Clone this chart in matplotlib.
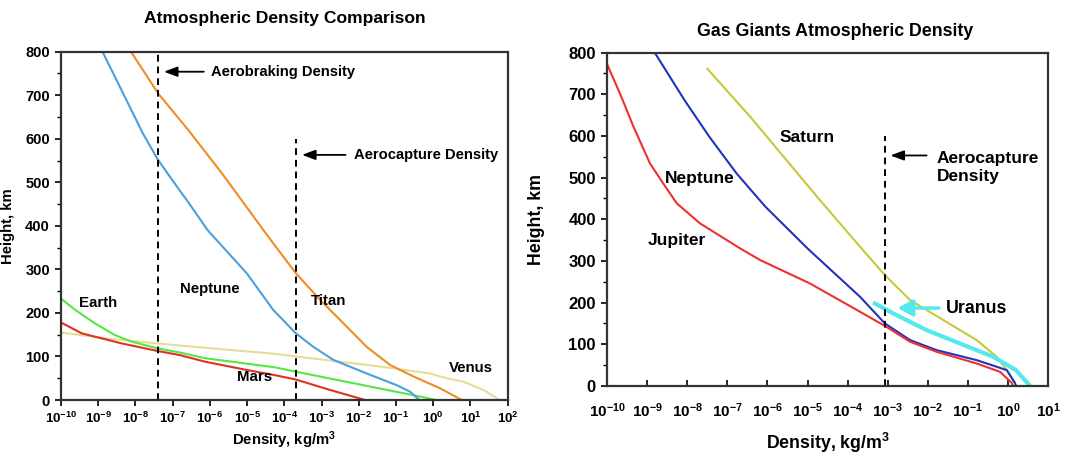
import matplotlib
matplotlib.use("Agg")
import matplotlib.pyplot as plt
import numpy as np

plt.rcParams["font.family"] = ["Liberation Sans", "DejaVu Sans"]
plt.rcParams["font.weight"] = "bold"
plt.rcParams["mathtext.fontset"] = "custom"
plt.rcParams["mathtext.bf"] = "Liberation Sans:bold"
plt.rcParams["mathtext.rm"] = "Liberation Sans:bold"
plt.rcParams["mathtext.default"] = "bf"

# ========= Data (height km, log10 density kg/m3) =========
# left panel
neptune_h = [804, 704, 612, 551, 475, 459, 390, 291, 207, 153, 122, 92, 61, 34, 19, 0]
neptune_lr = [-8.91, -8.33, -7.80, -7.39, -6.76, -6.62, -6.06, -5.01, -4.30, -3.69, -3.22, -2.68, -1.79, -0.98, -0.62, -0.37]
titan_h = [804, 750, 704, 620, 521, 459, 390, 360, 291, 230, 176, 122, 80, 54, 27, 0]
titan_lr = [-8.15, -7.74, -7.39, -6.58, -5.68, -5.15, -4.56, -4.30, -3.69, -3.04, -2.41, -1.79, -1.15, -0.53, 0.18, 0.77]
earth_h = [233, 207, 176, 149, 134, 119, 109, 96, 75, 65, 34, 11, 0]
earth_lr = [-10.0, -9.62, -9.09, -8.55, -8.10, -7.43, -6.80, -6.13, -4.25, -3.69, -1.88, -0.53, 0.09]
mars_h = [178, 153, 130, 113, 103, 88, 69, 57, 47, 23, 0]
mars_lr = [-10.0, -9.44, -8.37, -7.43, -6.80, -6.13, -5.01, -4.25, -3.69, -2.77, -1.83]
venus_h = [155, 142, 130, 125, 106, 100, 77, 61, 50, 42, 23, 0]
venus_lr = [-10.0, -8.82, -7.43, -6.80, -4.25, -3.69, -1.43, -0.09, 0.36, 0.81, 1.35, 1.79]

# right panel
jupiter_h = [770, 702, 622, 534, 486, 438, 390, 330, 302, 246, 178, 144, 106, 82, 54, 34, 8, 0]
jupiter_lr = [-9.99, -9.68, -9.34, -8.93, -8.60, -8.26, -7.68, -6.68, -6.18, -4.94, -3.69, -3.07, -2.44, -1.78, -0.78, -0.20, 0.09, 0.12]
gneptune_h = [798, 686, 598, 510, 430, 330, 214, 150, 110, 86, 62, 38, 8, 0]
gneptune_lr = [-8.80, -8.07, -7.45, -6.77, -6.05, -5.00, -3.69, -3.07, -2.44, -1.78, -0.78, -0.03, 0.17, 0.2]
saturn_h = [761, 646, 448, 334, 266, 206, 158, 110, 70, 38, 8, 0]
saturn_lr = [-7.50, -6.43, -4.71, -3.69, -3.07, -2.44, -1.61, -0.78, -0.28, -0.03, 0.17, 0.2]
uranus_h = [198, 174, 134, 102, 70, 38, 0]
uranus_lr = [-3.32, -2.86, -2.03, -1.20, -0.37, 0.20, 0.55]

aerobraking_rho = 4e-8
aerocapture_rho_left = 2e-4
aerocapture_rho_right = 8.5e-4

left_exps = list(range(-10, 3))
right_exps = list(range(-10, 2))

fig = plt.figure(figsize=(10.65, 4.57), dpi=100)
ax1 = fig.add_axes([0.0573, 0.1247, 0.4194, 0.7622])
ax2 = fig.add_axes([0.5700, 0.1554, 0.4141, 0.7297])


def style_axes(ax, exps, xdir, ysize, xsize, xpad, lsize):
    ax.set_xscale("log")
    ax.set_xlim(10.0 ** exps[0], 10.0 ** exps[-1])
    ax.set_ylim(0, 800)
    ax.set_xticks([10.0 ** e for e in exps])
    ax.set_xticklabels([f"$10^{{{e}}}$" for e in exps])
    ax.set_yticks(range(0, 801, 100))
    ax.set_yticks(range(50, 800, 100), minor=True)
    ax.tick_params(axis="y", which="major", labelsize=ysize, length=4, width=1.2, pad=4)
    ax.tick_params(axis="y", which="minor", length=3, width=1)
    ax.tick_params(axis="x", which="major", labelsize=xsize, length=4, width=1.2, direction=xdir, pad=xpad)
    ax.tick_params(axis="x", which="minor", length=2.5, width=0.8, direction=xdir)
    for s in ax.spines.values():
        s.set_linewidth(1.6)
        s.set_color("#333333")
    ax.set_ylabel("Height, km", fontsize=lsize, fontweight="bold")
    ax.set_xlabel("Density, kg/m$^3$", fontsize=lsize, fontweight="bold")


dash = (0, (3.5, 2.5))
arrow_k = dict(arrowstyle="-|>,head_width=0.3,head_length=0.8", color="black", lw=1.3)

# ========= Left panel =========
style_axes(ax1, left_exps, "out", 10.5, 9.5, 4, 10.7)
ax1.yaxis.set_label_coords(-0.103, 0.5)
ax1.xaxis.labelpad = 2
ax1.plot(10.0 ** np.array(venus_lr), venus_h, color="#e6dc98", lw=1.5)
ax1.plot(10.0 ** np.array(earth_lr), earth_h, color="#55e844", lw=1.5)
ax1.plot(10.0 ** np.array(mars_lr), mars_h, color="#dd3322", lw=1.5)
ax1.plot(10.0 ** np.array(neptune_lr), neptune_h, color="#4aa0dc", lw=1.5)
ax1.plot(10.0 ** np.array(titan_lr), titan_h, color="#f08c28", lw=1.5)
ax1.plot([aerobraking_rho] * 2, [0, 800], color="black", lw=1.4, ls=dash)
ax1.plot([aerocapture_rho_left] * 2, [0, 600], color="black", lw=1.4, ls=dash)
ax1.annotate("", xy=(10 ** -7.31, 754), xytext=(10 ** -6.09, 754), arrowprops=arrow_k)
ax1.text(10 ** -5.97, 754, "Aerobraking Density", fontsize=10.6, fontweight="bold", va="center")
ax1.annotate("", xy=(10 ** -3.6, 563), xytext=(10 ** -2.28, 563), arrowprops=arrow_k)
ax1.text(10 ** -2.14, 563, "Aerocapture Density", fontsize=10.6, fontweight="bold", va="center")
for label, lx, ly in [("Earth", -9.0, 222), ("Neptune", -6.0, 254), ("Titan", -2.8, 228),
                      ("Venus", 1.0, 74), ("Mars", -4.8, 53)]:
    ax1.text(10.0 ** lx, ly, label, fontsize=10.8, fontweight="bold", ha="center", va="center")
ax1.set_title("Atmospheric Density Comparison", fontsize=12.6, fontweight="bold", pad=21)

# ========= Right panel =========
style_axes(ax2, right_exps, "in", 12, 11, 11, 12.8)
ax2.yaxis.set_label_coords(-0.141, 0.5)
ax2.xaxis.labelpad = 8
ax2.plot(10.0 ** np.array(saturn_lr), saturn_h, color="#c8c83a", lw=1.5)
ax2.plot(10.0 ** np.array(uranus_lr), uranus_h, color="#55e8ee", lw=3)
ax2.plot(10.0 ** np.array(gneptune_lr), gneptune_h, color="#2233bb", lw=1.5)
ax2.plot(10.0 ** np.array(jupiter_lr), jupiter_h, color="#ee3030", lw=1.5)
ax2.plot([aerocapture_rho_right] * 2, [0, 600], color="black", lw=1.4, ls=dash)
ax2.annotate("", xy=(10 ** -3.0, 553), xytext=(10 ** -1.96, 553), arrowprops=arrow_k)
ax2.text(10 ** -1.78, 523, "Aerocapture\nDensity", fontsize=12.5, fontweight="bold", va="center",
         linespacing=1.25)
ax2.annotate("", xy=(10 ** -2.82, 187), xytext=(10 ** -1.65, 187),
             arrowprops=dict(arrowstyle="-|>,head_width=0.5,head_length=0.9", color="#55e8ee", lw=2.5))
ax2.text(10 ** -1.55, 187, "Uranus", fontsize=12.8, fontweight="bold", va="center")
for label, lx, ly in [("Saturn", -5.0, 596), ("Neptune", -7.7, 497), ("Jupiter", -8.25, 350)]:
    ax2.text(10.0 ** lx, ly, label, fontsize=12.5, fontweight="bold", ha="center", va="center")
ax2.set_title("Gas Giants Atmospheric Density", fontsize=12.8, fontweight="bold", pad=12, x=0.517)

fig.savefig("out.png")
